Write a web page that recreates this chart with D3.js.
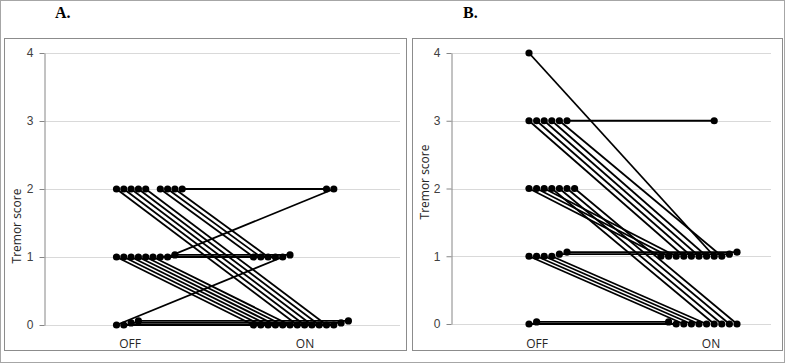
<!DOCTYPE html>
<html>
<head>
<meta charset="UTF-8">
<title>Tremor score OFF / ON</title>
<script src="https://d3js.org/d3.v7.min.js"></script>
<style>
  body { margin: 0; background: #fff; }
  svg { display: block; font-family: "Open Sans", "Liberation Sans", sans-serif; }
  .tick text { font-size: 12px; fill: #404040; }
  .axis path, .axis line { stroke: #868686; }
  .grid { stroke: #d9d9d9; }
  .pair { fill: none; stroke: #000; stroke-width: 1.8; }
  .dot { fill: #000; }
  .panel-title { font-family: "Liberation Serif", serif; font-weight: bold; font-size: 16px; }
  .axis-title, .cat { font-size: 12px; fill: #262626; }
</style>
</head>
<body>
<div id="chart"></div>
<script>
// categories and y ticks
const categories = ["OFF", "ON"];
const yTicks = [0, 1, 2, 3, 4];

// Panel A: one entry per subject (score OFF, score ON, position within its row)
const aOffScore = [2, 2, 2, 2, 2, 2, 2, 2, 2, 1, 1, 1, 1, 1, 1, 1, 1.03, 1, 0, 0, 0.03, 0.06];
const aOnScore  = [0, 0, 0, 0, 0, 1, 1, 1, 2, 0, 0, 0, 0, 0, 0, 1, 1.03, 2, 1, 0, 0.03, 0.06];
const aOffSlot  = [0, 1, 2, 3, 4, 6, 7, 8, 9, 0, 1, 2, 3, 4, 5, 6, 8, 7, 0, 1, 2, 3];
const aOnSlot   = [6, 7, 8, 9, 10, 0, 1, 2, 10, 0, 1, 2, 3, 4, 5, 3, 5, 11, 4, 11, 12, 13];

// Panel B
const bOffScore = [4, 3, 3, 3, 3, 3, 3, 2, 2, 2, 2, 2, 2, 2, 1, 1, 1, 1, 1.03, 1.06, 0, 0.03];
const bOnScore  = [1, 3, 1, 1, 1, 1, 1, 1, 1, 1, 0, 0, 0, 0, 0, 0, 0, 0, 1.03, 1.06, 0, 0.03];
const bOffSlot  = [0, 5, 0, 1, 2, 3, 4, 0, 1, 2, 3, 4, 5, 6, 0, 1, 2, 3, 4, 5, 0, 1];
const bOnSlot   = [7, 7, 3, 4, 5, 6, 8, 0, 1, 2, 7, 8, 9, 10, 3, 4, 5, 6, 9, 10, 2, 1];

const W = 785, H = 364;
const svg = d3.select("#chart").append("svg").attr("width", W).attr("height", H);

// outer frame
svg.append("rect").attr("x", 0.5).attr("y", 0.5).attr("width", W - 1).attr("height", H - 2)
  .attr("fill", "none").attr("stroke", "#a6a6a6");

const panels = [
  { title: "A.", titleX: 55, box: [4.5, 38.5, 402, 312], axisX: 44.5, gridEnd: 400,
    yRange: [325, 53], xRange: [116.5, 253.5], slotPx: 7.3, labelX: [130, 305], yTitle: 226, yTitleX: 21,
    off: aOffScore, on: aOnScore, offSlot: aOffSlot, onSlot: aOnSlot },
  { title: "B.", titleX: 463, box: [412.5, 38.5, 370, 312], axisX: 451.5, gridEnd: 771,
    yRange: [324, 53], xRange: [529, 661], slotPx: 7.6, labelX: [537, 711], yTitle: 182, yTitleX: 429,
    off: bOffScore, on: bOnScore, offSlot: bOffSlot, onSlot: bOnSlot }
];

panels.forEach(p => {
  const g = svg.append("g");

  svg.append("text").attr("class", "panel-title").attr("x", p.titleX).attr("y", 18).text(p.title);

  g.append("rect").attr("x", p.box[0]).attr("y", p.box[1]).attr("width", p.box[2]).attr("height", p.box[3])
    .attr("fill", "#fff").attr("stroke", "#8c8c8c");

  const y = d3.scaleLinear().domain([0, 4]).range(p.yRange);
  const x = d3.scaleLinear().domain([0, 1]).range(p.xRange);

  // gridlines
  g.selectAll(".grid").data(yTicks).enter().append("line")
    .attr("class", "grid")
    .attr("x1", p.axisX).attr("x2", p.gridEnd)
    .attr("y1", d => Math.round(y(d)) + 0.5).attr("y2", d => Math.round(y(d)) + 0.5);

  g.append("g").attr("class", "axis")
    .attr("transform", `translate(${p.axisX},0)`)
    .call(d3.axisLeft(y).tickValues(yTicks).tickFormat(d3.format("d"))
      .tickSize(5).tickSizeOuter(0).tickPadding(6));

  g.append("text").attr("class", "axis-title")
    .attr("transform", `translate(${p.yTitleX},${p.yTitle}) rotate(-90)`)
    .attr("text-anchor", "middle").text("Tremor score");

  g.selectAll(".cat").data(categories).enter().append("text")
    .attr("class", "cat").attr("text-anchor", "middle")
    .attr("x", (d, i) => p.labelX[i]).attr("y", 348).text(d => d);

  const subjects = p.off.map((v, i) => ({
    x0: x(0) + p.offSlot[i] * p.slotPx, y0: y(v),
    x1: x(1) + p.onSlot[i] * p.slotPx, y1: y(p.on[i])
  }));

  g.selectAll(".pair").data(subjects).enter().append("line")
    .attr("class", "pair")
    .attr("x1", d => d.x0).attr("y1", d => d.y0)
    .attr("x2", d => d.x1).attr("y2", d => d.y1);

  const dots = subjects.flatMap(d => [[d.x0, d.y0], [d.x1, d.y1]]);
  g.selectAll(".dot").data(dots).enter().append("circle")
    .attr("class", "dot").attr("r", 3.6)
    .attr("cx", d => d[0]).attr("cy", d => d[1]);
});
</script>
</body>
</html>
